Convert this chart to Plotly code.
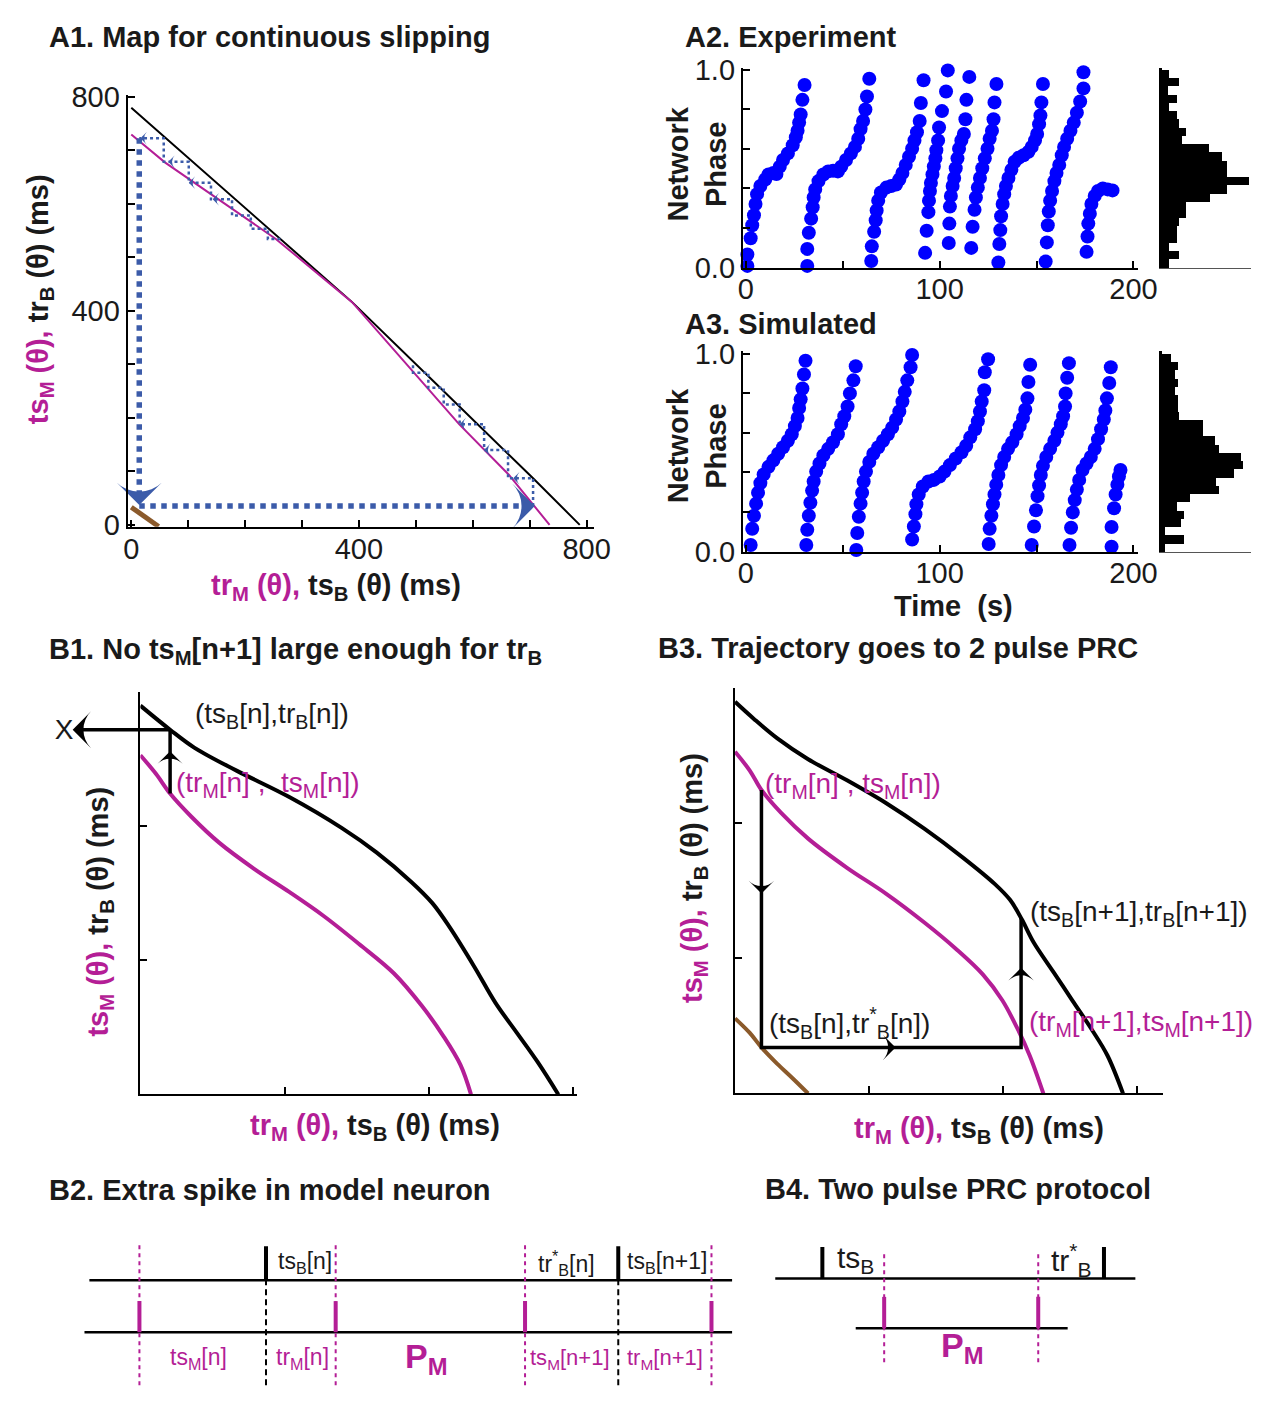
import plotly.graph_objects as go

W, H = 1278, 1404
FONT = "Liberation Sans, Arial, Helvetica, sans-serif"
INK = "#1a1a1a"
MAG = "#B41E96"
DOT = "#0000FF"
COB = "#3B5BA9"
BROWN = "#8B5A2B"

# ======================= DATA =======================
# ---- A1: map for continuous slipping (ms) ----
a1_black_x = [0, 162, 388, 536, 706, 788]
a1_black_y = [779, 628, 416, 263, 87, 0]
a1_mag_x = [0, 59, 254, 388, 576, 616, 663, 735]
a1_mag_y = [729, 677, 534, 416, 188, 144, 94, 0]
a1_brown_x = [0, 48]
a1_brown_y = [33, -3]
a1_upper_stair_x = [262, 240, 240, 210, 210, 177, 177, 140, 140, 101, 101, 57, 57, 14]
a1_upper_stair_y = [534, 534, 553, 553, 578, 578, 608, 608, 639, 639, 678, 678, 722, 722]
a1_lower_stair_x = [706, 706, 662, 662, 620, 620, 577, 577, 549, 549, 522, 522, 495, 495]
a1_lower_stair_y = [35, 87, 87, 140, 140, 188, 188, 225, 225, 256, 256, 284, 284, 300]
a1_jump_x = [14, 14, None, 14, 692]
a1_jump_y = [722, 48, None, 35, 35]
a1_bigarrow_x = [14, 709]
a1_bigarrow_y = [37, 35]
a1_bigarrow_dir = [180, 90]
a1_smallarrow_x = [16, 65, 101, 143, 671, 620, 577]
a1_smallarrow_y = [722, 678, 639, 608, 87, 140, 188]
a1_tickvals = [0, 100, 200, 300, 400, 500, 600, 700, 800]
a1_ticktext = ["0", "", "", "", "400", "", "", "", "800"]

# ---- A2: experiment, network phase vs time (s) ----
a2_t = [
    0.8, 0.8, 2.5, 3.3, 4.2, 5.0, 5.8, 7.5, 10.0, 11.7, 14.2, 15.8, 17.5, 19.2, 21.7, 24.2, 25.8, 26.7, 27.5, 28.3, 29.2, 30.3,
    31.7, 31.7, 32.5, 33.7, 34.5, 35.0, 35.8, 37.5, 40.0, 42.5, 45.0, 47.5, 49.2, 51.7, 54.2, 56.3, 58.0, 59.2, 60.5, 61.7, 62.5, 63.7,
    64.7, 65.0, 66.2, 67.0, 67.5, 68.3, 69.7, 72.5, 75.0, 77.5, 79.2, 80.8, 82.5, 84.2, 85.8, 87.0, 88.3, 89.7, 90.3, 91.7,
    92.5, 93.3, 94.2, 94.5, 95.0, 95.5, 96.3, 97.0, 97.8, 98.3, 99.2, 99.7, 101.2, 103.3, 104.2,
    104.7, 105.0, 105.3, 105.8, 106.7, 107.5, 108.3, 109.2, 110.0, 111.2, 112.5, 113.3, 113.8, 115.3,
    116.3, 117.0, 118.0, 118.7, 119.7, 120.8, 122.0, 123.3, 124.7, 125.8, 127.0, 127.8, 128.3, 129.3,
    130.3, 130.8, 131.3, 131.7, 132.5, 133.3, 134.2, 135.5, 137.0, 138.7, 140.8, 143.3, 145.8, 147.5, 149.2, 150.3, 151.3, 152.0, 152.5, 153.3,
    154.7, 155.3, 155.8, 156.3, 157.0, 158.0, 159.2, 160.3, 161.7, 163.0, 164.2, 165.8, 167.5, 169.2, 170.8, 172.5, 174.2, 174.2,
    175.8, 176.3, 176.7, 177.5, 178.3, 180.0, 181.7, 184.2, 186.7, 189.2,
]
a2_phase = [
    0.008, 0.066, 0.148, 0.214, 0.264, 0.321, 0.371, 0.412, 0.445, 0.470, 0.478, 0.473, 0.510, 0.544, 0.577, 0.618, 0.659, 0.692, 0.733, 0.774, 0.848, 0.923,
    0.008, 0.094, 0.176, 0.247, 0.305, 0.354, 0.395, 0.437, 0.470, 0.486, 0.489, 0.486, 0.510, 0.544, 0.577, 0.610, 0.651, 0.700, 0.741, 0.799, 0.865, 0.955,
    0.033, 0.107, 0.181, 0.239, 0.288, 0.338, 0.379, 0.404, 0.412, 0.420, 0.445, 0.478, 0.519, 0.560, 0.601, 0.642, 0.684, 0.741, 0.832, 0.947,
    0.074, 0.186, 0.280, 0.338, 0.387, 0.428, 0.470, 0.511, 0.552, 0.593, 0.643, 0.708, 0.791, 0.890, 0.997,
    0.124, 0.222, 0.308, 0.362, 0.412, 0.453, 0.502, 0.552, 0.601, 0.643, 0.675, 0.750, 0.848, 0.964,
    0.099, 0.206, 0.292, 0.354, 0.404, 0.453, 0.502, 0.552, 0.601, 0.651, 0.692, 0.750, 0.835, 0.928,
    0.025, 0.119, 0.189, 0.259, 0.321, 0.371, 0.412, 0.453, 0.494, 0.535, 0.555, 0.568, 0.585, 0.610, 0.643, 0.675, 0.725, 0.769, 0.835, 0.928,
    0.030, 0.127, 0.214, 0.283, 0.338, 0.387, 0.437, 0.478, 0.519, 0.568, 0.610, 0.651, 0.692, 0.733, 0.783, 0.840, 0.906, 0.988,
    0.079, 0.157, 0.222, 0.272, 0.321, 0.362, 0.387, 0.400, 0.395, 0.390,
]
# histogram counts, phase bins from 0 (first) to 1 (last)
a2_hist = [20, 45, 20, 40, 40, 45, 65, 65, 130, 175, 235, 175, 175, 160, 125, 55, 65, 45, 40, 20, 40, 15, 45, 20]

# ---- A3: simulated ----
a3_t = [
    2.5, 3.3, 4.2, 5.3, 6.3, 7.5, 9.2, 11.7, 14.2, 16.7, 19.2, 21.7, 23.7, 25.3, 26.7, 27.5, 28.3, 29.2, 30.0, 30.8,
    31.2, 31.7, 32.5, 33.3, 34.2, 35.0, 36.3, 38.0, 40.0, 42.5, 45.0, 47.5, 49.2, 50.8, 52.5, 53.7, 55.5, 56.7,
    57.0, 57.5, 58.3, 59.2, 60.0, 60.8, 62.0, 63.7, 65.8, 68.3, 70.8, 73.3, 75.5, 77.5, 79.2, 80.8, 82.0, 83.3, 85.0, 85.8,
    85.8, 86.7, 87.5, 88.0, 89.2, 91.3, 94.2, 97.0, 100.0, 102.5, 105.3, 108.3, 111.3, 113.7, 115.8, 118.3, 119.7, 120.8, 121.7, 123.0, 123.3, 125.0,
    125.3, 125.8, 126.7, 127.5, 128.3, 129.2, 130.3, 131.7, 133.3, 135.3, 137.5, 139.7, 141.3, 143.0, 144.2, 145.3, 145.8, 146.7,
    147.5, 148.7, 149.7, 150.5, 151.3, 152.2, 153.3, 155.0, 157.0, 159.2, 160.8, 162.5, 163.7, 164.7, 165.0, 165.8, 166.7,
    167.0, 167.8, 168.7, 169.7, 170.8, 172.0, 173.7, 175.8, 178.0, 180.0, 181.7, 183.3, 184.7, 185.5, 186.3, 187.5, 188.3,
    188.7, 188.7, 190.0, 190.8, 191.7, 192.5, 193.3,
]
a3_phase = [
    0.033, 0.115, 0.181, 0.242, 0.297, 0.346, 0.390, 0.428, 0.461, 0.494, 0.527, 0.560, 0.593, 0.634, 0.675, 0.725, 0.769, 0.824, 0.895, 0.964,
    0.033, 0.110, 0.181, 0.247, 0.308, 0.354, 0.404, 0.445, 0.486, 0.519, 0.552, 0.593, 0.643, 0.684, 0.733, 0.799, 0.865, 0.936,
    0.008, 0.094, 0.176, 0.242, 0.297, 0.354, 0.404, 0.453, 0.494, 0.527, 0.560, 0.593, 0.626, 0.667, 0.708, 0.758, 0.807, 0.865, 0.931, 0.993,
    0.061, 0.127, 0.189, 0.239, 0.288, 0.329, 0.354, 0.362, 0.379, 0.404, 0.437, 0.470, 0.502, 0.535, 0.577, 0.618, 0.659, 0.708, 0.758, 0.815, 0.906, 0.972,
    0.038, 0.115, 0.181, 0.239, 0.288, 0.338, 0.387, 0.437, 0.478, 0.519, 0.552, 0.593, 0.634, 0.675, 0.717, 0.774, 0.857, 0.944,
    0.033, 0.127, 0.209, 0.280, 0.334, 0.387, 0.433, 0.478, 0.519, 0.560, 0.601, 0.643, 0.684, 0.733, 0.799, 0.878, 0.952,
    0.033, 0.120, 0.198, 0.260, 0.313, 0.362, 0.412, 0.445, 0.478, 0.519, 0.568, 0.618, 0.667, 0.713, 0.774, 0.852, 0.931,
    0.025, 0.124, 0.219, 0.288, 0.338, 0.379, 0.412,
]
a3_hist = [8, 58, 8, 50, 58, 40, 75, 152, 145, 193, 218, 212, 152, 142, 110, 110, 45, 42, 42, 35, 42, 35, 42, 25]

a_xticks = [0, 50, 100, 150, 200]
a_xticktext = ["0", "", "100", "", "200"]
a_yticks = [0, 0.2, 0.4, 0.6, 0.8, 1.0]
a_yticktext = ["0.0", "", "", "", "", "1.0"]

# ---- B1 (schematic units) ----
b1_black_x = [0, 0.206, 0.376, 0.667, 1.03, 1.396, 1.638, 1.88, 2.026, 2.148, 2.318, 2.464, 2.61, 2.755, 2.9]
b1_black_y = [2.90, 2.72, 2.585, 2.415, 2.22, 1.988, 1.805, 1.585, 1.427, 1.244, 0.951, 0.683, 0.463, 0.244, 0.0]
b1_mag_x = [0, 0.109, 0.206, 0.352, 0.546, 0.789, 1.03, 1.274, 1.517, 1.76, 1.954, 2.1, 2.221, 2.294]
b1_mag_y = [2.53, 2.39, 2.244, 2.073, 1.878, 1.683, 1.512, 1.329, 1.122, 0.902, 0.659, 0.439, 0.22, 0.0]
b1_up_x = [0.206, 0.206]
b1_up_y = [2.244, 2.72]
b1_left_x = [0.206, -0.44]
b1_left_y = [2.72, 2.72]
b_ticks = [0, 1, 2, 3]

# ---- B3 ----
b3_black_x = [0, 0.139, 0.313, 0.545, 0.835, 1.125, 1.414, 1.704, 1.936, 2.052, 2.139, 2.226, 2.371, 2.516, 2.661, 2.777, 2.893]
b3_black_y = [2.90, 2.775, 2.631, 2.475, 2.319, 2.151, 1.959, 1.743, 1.552, 1.432, 1.288, 1.12, 0.904, 0.688, 0.472, 0.281, 0.0]
b3_mag_x = [0, 0.11, 0.197, 0.342, 0.545, 0.835, 1.125, 1.414, 1.646, 1.849, 1.994, 2.11, 2.197, 2.299]
b3_mag_y = [2.53, 2.391, 2.247, 2.079, 1.887, 1.671, 1.48, 1.264, 1.072, 0.88, 0.688, 0.472, 0.281, 0.0]
b3_brown_x = [0, 0.11, 0.197, 0.313, 0.429, 0.545]
b3_brown_y = [0.556, 0.448, 0.341, 0.221, 0.113, 0.0]
b3_traj_x = [0.197, 0.197, 2.133, 2.133]
b3_traj_y = [2.247, 0.341, 0.341, 1.30]
b3_arrow_x = [0.197, 1.197, 2.133]
b3_arrow_y = [1.48, 0.341, 0.93]
b3_arrow_dir = [180, 90, 0]

# ---- B2 timeline (time units) ----
b2_burst_spikes = [266, 625]
b2_model_spikes = [137, 337, 530, 720]
b2_top_span = [86, 741]
b2_bottom_span = [81, 741]

# ---- B4 ----
b4_burst_spikes = [833, 1120]
b4_model_spikes = [896, 1053]
b4_top_span = [785, 1152]
b4_bottom_span = [867, 1083]


# ======================= HELPERS =======================
def dom_x(a, b):
    return [a / W, b / W]


def dom_y(top, bottom):
    return [1 - bottom / H, 1 - top / H]


def segs(xs, y0, y1):
    X, Y = [], []
    for x in xs:
        X += [x, x, None]
        Y += [y0, y1, None]
    return X, Y


fig = go.Figure()


def line(x, y, xa, ya, color, width, dash=None, shape="linear"):
    fig.add_trace(go.Scatter(x=x, y=y, xaxis=xa, yaxis=ya, mode="lines",
                             line=dict(color=color, width=width, dash=dash, shape=shape),
                             hoverinfo="skip"))


def arrows(x, y, ang, xa, ya, color, size):
    fig.add_trace(go.Scatter(x=x, y=y, xaxis=xa, yaxis=ya, mode="markers",
                             marker=dict(symbol="arrow-wide", angle=ang, size=size, color=color,
                                         line=dict(width=0)),
                             cliponaxis=False, hoverinfo="skip"))


# ======================= A1 =======================
line(a1_black_x, a1_black_y, "x", "y", "black", 2)
line(a1_mag_x, a1_mag_y, "x", "y", MAG, 2)
line(a1_upper_stair_x, a1_upper_stair_y, "x", "y", COB, 2.5, "dot")
line(a1_lower_stair_x, a1_lower_stair_y, "x", "y", COB, 2.5, "dot")
line(a1_jump_x, a1_jump_y, "x", "y", COB, 5.5, "dot")
line(a1_brown_x, a1_brown_y, "x", "y", BROWN, 5)
arrows(a1_bigarrow_x, a1_bigarrow_y, a1_bigarrow_dir, "x", "y", COB, 32)
arrows(a1_smallarrow_x, a1_smallarrow_y, [270] * len(a1_smallarrow_x), "x", "y", COB, 9)

# ======================= A2 / A3 =======================
for t, p, xa, ya in [(a2_t, a2_phase, "x2", "y2"), (a3_t, a3_phase, "x4", "y4")]:
    fig.add_trace(go.Scatter(x=t, y=p, xaxis=xa, yaxis=ya, mode="markers",
                             marker=dict(color=DOT, size=14, line=dict(width=0)),
                             cliponaxis=False, hoverinfo="skip"))

for counts, xa, ya in [(a2_hist, "x3", "y3"), (a3_hist, "x5", "y5")]:
    n = len(counts)
    centers = [(i + 0.5) / n for i in range(n)]
    fig.add_trace(go.Bar(x=counts, y=centers, orientation="h", xaxis=xa, yaxis=ya,
                         width=1.0 / n, marker=dict(color="black", line=dict(width=0)),
                         hoverinfo="skip"))

# ======================= B1 =======================
line(b1_black_x, b1_black_y, "x6", "y6", "black", 4, shape="spline")
line(b1_mag_x, b1_mag_y, "x6", "y6", MAG, 4, shape="spline")
line(b1_up_x, b1_up_y, "x6", "y6", "black", 3.5)
arrows([0.206], [2.56], [0], "x6", "y6", "black", 18)
line(b1_left_x, b1_left_y, "x10", "y6", "black", 3.5)
arrows([-0.47], [2.72], [270], "x10", "y6", "black", 26)
fig.add_trace(go.Scatter(x=[-0.53], y=[2.70], xaxis="x10", yaxis="y6", mode="text", text=["X"],
                         textfont=dict(family=FONT, size=28, color=INK), cliponaxis=False,
                         hoverinfo="skip"))

# ======================= B3 =======================
line(b3_black_x, b3_black_y, "x7", "y7", "black", 4, shape="spline")
line(b3_mag_x, b3_mag_y, "x7", "y7", MAG, 4, shape="spline")
line(b3_brown_x, b3_brown_y, "x7", "y7", BROWN, 4, shape="spline")
line(b3_traj_x, b3_traj_y, "x7", "y7", "black", 3.5)
arrows(b3_arrow_x, b3_arrow_y, b3_arrow_dir, "x7", "y7", "black", 18)

# ======================= B2 =======================
line(b2_top_span, [1, 1], "x8", "y8", "black", 2.5)
line(b2_bottom_span, [0, 0], "x8", "y8", "black", 2.5)
sx, sy = segs(b2_model_spikes, -1.02, 1.68)
line(sx, sy, "x8", "y8", MAG, 2, "4px,4px")
sx, sy = segs(b2_burst_spikes, -1.02, 1.0)
line(sx, sy, "x8", "y8", "black", 2, "6px,4px")
sx, sy = segs(b2_burst_spikes, 1.0, 1.66)
line(sx, sy, "x8", "y8", "black", 4)
sx, sy = segs(b2_model_spikes, 0.0, 0.6)
line(sx, sy, "x8", "y8", MAG, 4)

# ======================= B4 =======================
line(b4_top_span, [1, 1], "x9", "y9", "black", 2.5)
line(b4_bottom_span, [0, 0], "x9", "y9", "black", 2.5)
sx, sy = segs(b4_model_spikes, -0.68, 1.51)
line(sx, sy, "x9", "y9", MAG, 2, "4px,4px")
sx, sy = segs(b4_burst_spikes, 1.0, 1.63)
line(sx, sy, "x9", "y9", "black", 4)
sx, sy = segs(b4_model_spikes, 0.0, 0.63)
line(sx, sy, "x9", "y9", MAG, 4)

# ======================= AXES =======================
tickfont = dict(family=FONT, size=29, color=INK)


def axis(domain, rng, anchor, tickvals=None, ticktext=None, labels=False, lw=2,
         linecolor="black", visible=True, standoff=0):
    d = dict(domain=domain, range=rng, anchor=anchor, showgrid=False, zeroline=False,
             showline=True, linecolor=linecolor, linewidth=lw, ticks="inside" if tickvals else "",
             ticklen=7, tickwidth=2, tickcolor="black", showticklabels=labels,
             tickfont=tickfont, fixedrange=True, visible=visible,
             ticklabelstandoff=standoff)
    if tickvals is not None:
        d["tickmode"] = "array"
        d["tickvals"] = tickvals
        d["ticktext"] = ticktext if ticktext is not None else [""] * len(tickvals)
    return d


b1_scale = (583 - 138) / 3.03
layout = dict(
    width=W, height=H, margin=dict(l=0, r=0, t=0, b=0), autosize=False,
    paper_bgcolor="white", plot_bgcolor="rgba(0,0,0,0)", showlegend=False, bargap=0,
    font=dict(family=FONT, color=INK),
    xaxis=axis(dom_x(125, 600), [-6.4, 812.6], "y", a1_tickvals, a1_ticktext, True, standoff=-5),
    yaxis=axis(dom_y(82, 523), [-3.7, 802.4], "x", a1_tickvals, a1_ticktext, True),
    xaxis2=axis(dom_x(752, 1155), [-1.52, 202.5], "y2", a_xticks, a_xticktext, True, standoff=-6),
    yaxis2=axis(dom_y(54, 259), [-0.005, 1.0099], "x2", a_yticks, a_yticktext, True),
    xaxis3=axis(dom_x(1179, 1270), [0, 240], "y3", lw=1, linecolor="#555555"),
    yaxis3=axis(dom_y(54, 259), [-0.005, 1.0099], "x3", lw=2.5),
    xaxis4=axis(dom_x(752, 1155), [-1.52, 202.5], "y4", a_xticks, a_xticktext, True, standoff=-6),
    yaxis4=axis(dom_y(343, 549), [-0.0035, 1.015], "x4", a_yticks, a_yticktext, True),
    xaxis5=axis(dom_x(1179, 1270), [0, 240], "y5", lw=1, linecolor="#555555"),
    yaxis5=axis(dom_y(343, 549), [-0.0035, 1.015], "x5", lw=2.5),
    xaxis6=axis(dom_x(138, 583), [0, 3.03], "y6", b_ticks),
    yaxis6=axis(dom_y(692, 1103), [0, 3.0], "x6", b_ticks),
    xaxis7=axis(dom_x(744, 1180), [0, 3.19], "y7", b_ticks),
    yaxis7=axis(dom_y(688, 1102), [0, 3.0], "x7", b_ticks),
    xaxis8=axis(dom_x(60, 760), [60, 760], "y8", visible=False),
    yaxis8=axis(dom_y(1240, 1404), [-1.094, 2.0], "x8", visible=False),
    xaxis9=axis(dom_x(770, 1170), [770, 1170], "y9", visible=False),
    yaxis9=axis(dom_y(1240, 1404), [-1.216, 2.0], "x9", visible=False),
    xaxis10=axis(dom_x(45, 583), [3.03 - (583 - 45) / b1_scale, 3.03], "y6", visible=False),
)
fig.update_layout(**layout)

# ======================= TEXT =======================
ann = []


def label(text, x, y, size=29, color=INK, xanchor="left", yanchor="middle",
          xref="paper", yref="paper", angle=0):
    if xref == "paper":
        x = x / W
    if yref == "paper":
        y = 1 - y / H
    ann.append(dict(text=text, x=x, y=y, xref=xref, yref=yref, xanchor=xanchor,
                    yanchor=yanchor, showarrow=False, textangle=angle,
                    font=dict(family=FONT, size=size, color=color)))


# panel titles
label("<b>A1. Map for continuous slipping</b>", 43, 22)
label("<b>A2. Experiment</b>", 691, 22)
label("<b>A3. Simulated</b>", 691, 316)
label("<b>B1. No ts<sub>M</sub>[n+1] large enough for tr<sub>B</sub></b>", 43, 650)
label("<b>B3. Trajectory goes to 2 pulse PRC</b>", 663, 647)
label("<b>B2. Extra spike in model neuron</b>", 43, 1201)
label("<b>B4. Two pulse PRC protocol</b>", 773, 1200)

# axis titles
xlab = ("<b><span style='color:%s'>tr<sub>M</sub> (θ),</span> ts<sub>B</sub> (θ) (ms)</b>" % MAG)
ylab = ("<b><span style='color:%s'>ts<sub>M</sub> (θ),</span> tr<sub>B</sub> (θ) (ms)</b>" % MAG)
label(xlab, 337, 584, xanchor="center")
label(ylab, 35, 290, xanchor="center", angle=-90)
label(xlab, 377, 1136, xanchor="center")
label(ylab, 97, 916, xanchor="center", angle=-90)
label(xlab, 993, 1139, xanchor="center")
label(ylab, 702, 882, xanchor="center", angle=-90)
label("<b>Network<br>Phase</b>", 705, 152, xanchor="center", angle=-90)
label("<b>Network<br>Phase</b>", 705, 440, xanchor="center", angle=-90)
label("<b>Time  (s)</b>", 967, 604, xanchor="center")

# B1 / B3 point labels
label("(ts<sub>B</sub>[n],tr<sub>B</sub>[n])", 192, 716, size=28)
label("(tr<sub>M</sub>[n] ,  ts<sub>M</sub>[n])", 172, 786, size=28, color=MAG)
label("(tr<sub>M</sub>[n] , ts<sub>M</sub>[n])", 772, 787, size=28, color=MAG)
label("(ts<sub>B</sub>[n+1],tr<sub>B</sub>[n+1])", 1043, 918, size=28)
label("(ts<sub>B</sub>[n],tr<sup>*</sup><sub>B</sub>[n])", 777, 1030, size=28)
label("(tr<sub>M</sub>[n+1],ts<sub>M</sub>[n+1])", 1042, 1031, size=28, color=MAG)

# B2 labels (data coordinates of timeline axes)
label("ts<sub>B</sub>[n]", 276, 1.34, size=23, xref="x8", yref="y8")
label("tr<sup>*</sup><sub>B</sub>[n]", 541, 1.34, size=23, xref="x8", yref="y8")
label("ts<sub>B</sub>[n+1]", 632, 1.34, size=23, xref="x8", yref="y8")
label("ts<sub>M</sub>[n]", 197, -0.51, size=23, color=MAG, xanchor="center", xref="x8", yref="y8")
label("tr<sub>M</sub>[n]", 274, -0.51, size=23, color=MAG, xref="x8", yref="y8")
label("<b>P<sub>M</sub></b>", 430, -0.51, size=34, color=MAG, xanchor="center", xref="x8", yref="y8")
label("ts<sub>M</sub>[n+1]", 533, -0.51, size=22, color=MAG, xref="x8", yref="y8")
label("tr<sub>M</sub>[n+1]", 632, -0.51, size=22, color=MAG, xref="x8", yref="y8")

# B4 labels
label("ts<sub>B</sub>", 846, 1.37, size=30, xref="x9", yref="y9")
label("tr<sup>*</sup><sub>B</sub>", 1064, 1.37, size=30, xref="x9", yref="y9")
label("<b>P<sub>M</sub></b>", 976, -0.39, size=34, color=MAG, xanchor="center", xref="x9", yref="y9")

fig.update_layout(annotations=ann)
fig.write_html(
    "out.html",
    post_script=("document.documentElement.style.margin='0';"
                 "document.body.style.margin='0';document.body.style.padding='0';"
                 "document.documentElement.style.overflow='hidden';"),
)
